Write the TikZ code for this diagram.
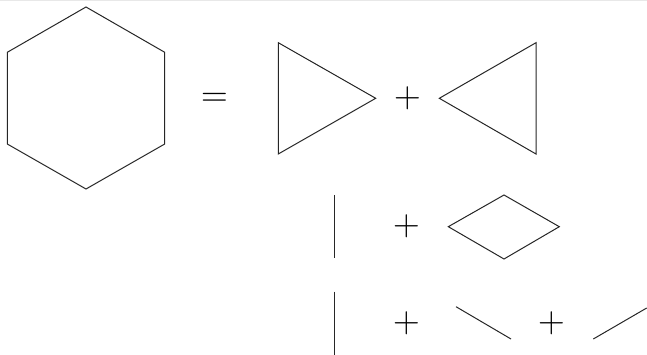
\documentclass[tikz,border=0pt]{standalone}
\usepackage{fontspec}
\begin{document}
\begin{tikzpicture}[x=1pt,y=-1pt,
  shape line/.style={draw=black!85, line width=1pt, line join=miter},
  op/.style={font=\fontsize{37}{37}\selectfont, inner sep=0pt, anchor=base}]
\useasboundingbox (0,0) rectangle (647,355);
\fill[black!9] (0,0) rectangle (647,1.5);
% hexagon
\draw[shape line] (86,7) -- (164.7,52.3) -- (164.7,144) -- (86,189) -- (7.3,144) -- (7.3,52.3) -- cycle;
\node[op] (eq) at (214.5,106.5) {=};
% row 1
\draw[shape line] (278.3,42.7) -- (375.7,98.3) -- (278.3,154) -- cycle;
\node[op] (p1) at (407.5,107.5) {+};
\draw[shape line] (536,42.7) -- (439.3,98.3) -- (536,154) -- cycle;
% row 2
\draw[shape line] (334.3,195) -- (334.3,258.3);
\node[op] (p2) at (407.3,235.9) {+};
\draw[shape line] (448.3,226.7) -- (504,195) -- (559.3,226.7) -- (504,259) -- cycle;
% row 3
\draw[shape line] (334.3,291.5) -- (334.3,355);
\node[op] (p3) at (407.3,332.5) {+};
\draw[shape line] (456,306.7) -- (511,339);
\node[op] (p4) at (551.8,332.5) {+};
\draw[shape line] (593.3,339) -- (646.7,308);
\end{tikzpicture}
\end{document}
